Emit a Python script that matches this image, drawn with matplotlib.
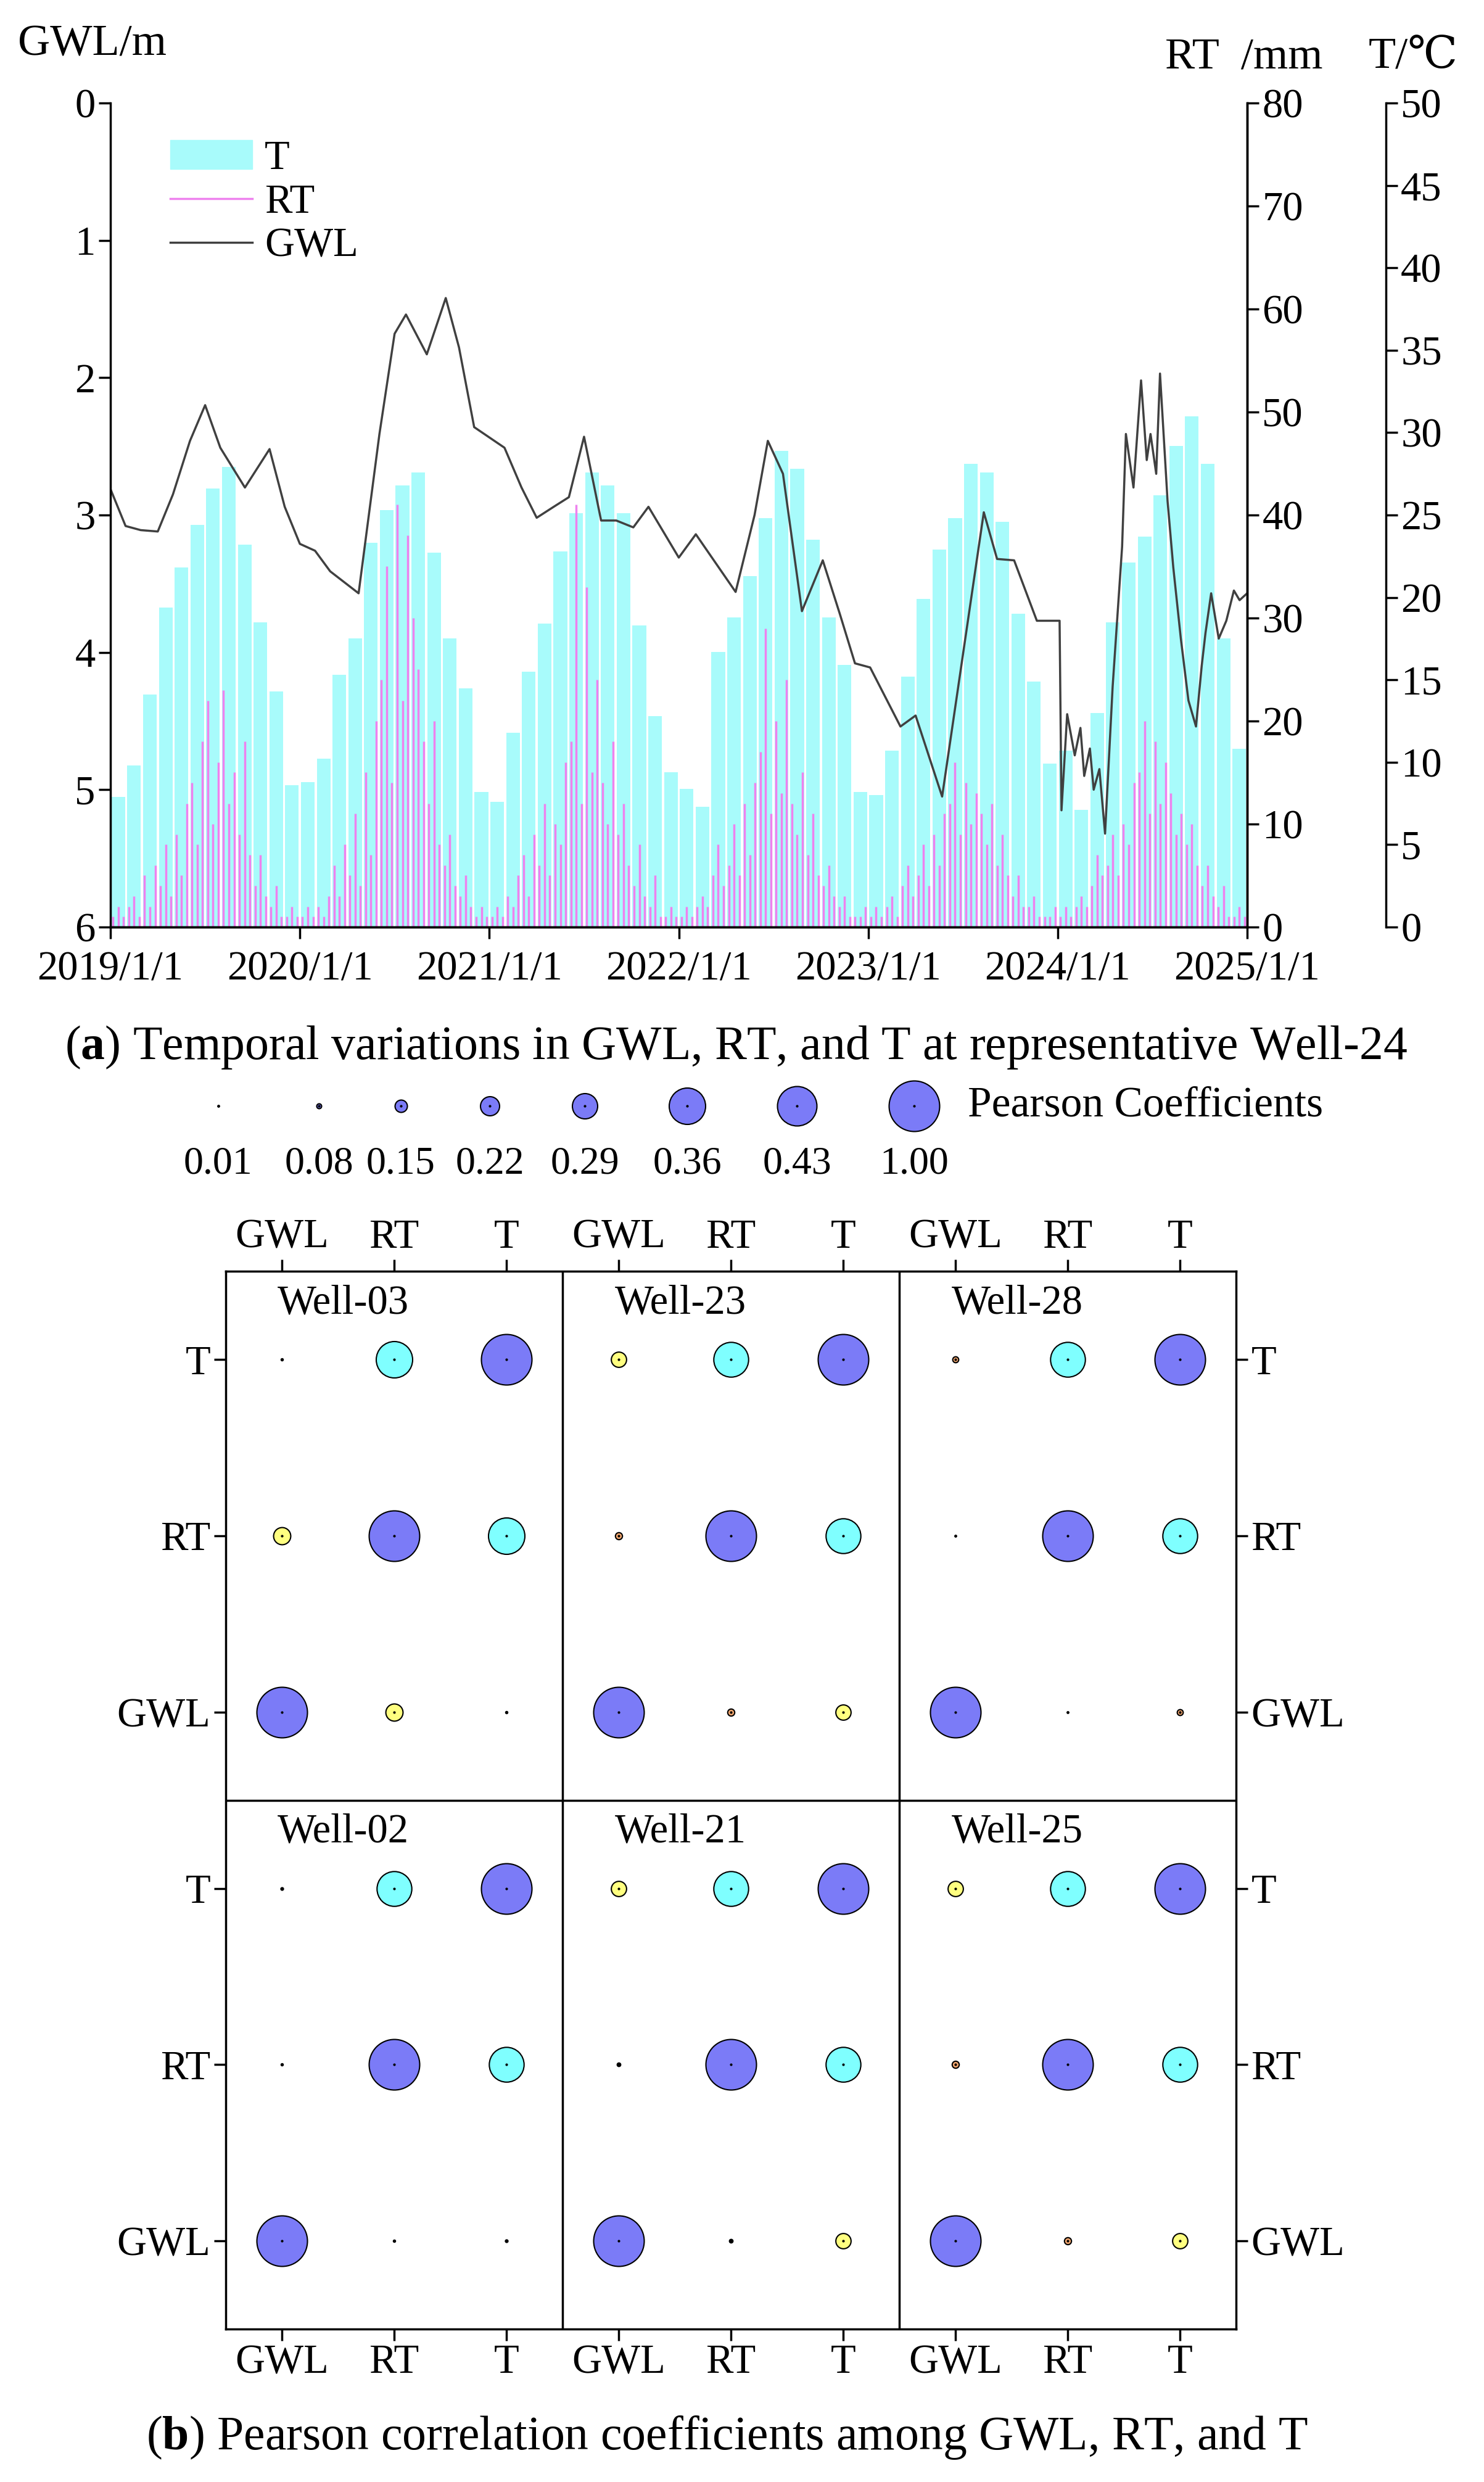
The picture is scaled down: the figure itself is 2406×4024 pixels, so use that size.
import numpy as np
import matplotlib
matplotlib.use("Agg")
import matplotlib.pyplot as plt
from matplotlib.patches import Patch
from matplotlib.lines import Line2D

plt.rcParams['font.family'] = ['Liberation Serif', 'DejaVu Serif']
plt.rcParams['mathtext.fontset'] = 'custom'
plt.rcParams['mathtext.bf'] = 'Liberation Serif:bold'
plt.rcParams['mathtext.rm'] = 'Liberation Serif'

FS = 48

# ---------------- data: panel (a) ----------------
YEARS = [2019, 2020, 2021, 2022, 2023, 2024]
T_MONTHLY = [
    7.9, 9.8, 14.1, 19.4, 21.8, 24.4, 26.6, 27.9, 23.2, 18.5, 14.3, 8.6,
    8.8, 10.2, 15.3, 17.5, 23.3, 25.3, 26.8, 27.6, 22.7, 17.5, 14.5, 8.2,
    7.6, 11.8, 15.5, 18.4, 22.8, 25.1, 27.6, 26.8, 25.1, 18.3, 12.8, 9.4,
    8.4, 7.3, 16.7, 18.8, 21.3, 24.8, 28.9, 27.8, 23.5, 18.8, 15.9, 8.2,
    8.0, 10.7, 15.2, 19.9, 22.9, 24.8, 28.1, 27.6, 24.6, 19.0, 14.9, 9.9,
    10.7, 7.1, 13.0, 18.5, 22.1, 23.7, 26.2, 29.2, 31.0, 28.1, 17.5, 10.8,
]
# rainfall, three readings per month (mm)
RT_DEKAD = [
    1, 2, 1, 2, 3, 1, 5, 2, 6, 4, 8, 3, 9, 5, 12, 14, 8, 18, 22, 10, 16, 23, 12, 15, 9, 18, 7, 4, 7, 3, 2, 4, 1, 1, 2, 1,
    1, 2, 1, 2, 1, 3, 6, 3, 8, 5, 11, 4, 15, 7, 20, 24, 35, 14, 41, 22, 38, 30, 25, 18, 12, 20, 8, 6, 9, 4, 3, 5, 2, 1, 2, 1,
    1, 2, 1, 3, 2, 5, 7, 3, 9, 6, 12, 5, 10, 8, 16, 18, 41, 12, 33, 15, 24, 14, 10, 18, 9, 12, 6, 4, 8, 3, 2, 5, 1, 1, 2, 1,
    1, 2, 1, 2, 3, 2, 5, 8, 4, 6, 10, 5, 12, 7, 14, 17, 29, 11, 20, 13, 24, 12, 9, 15, 7, 11, 5, 4, 6, 3, 2, 3, 1, 1, 1, 2,
    1, 2, 1, 2, 3, 1, 4, 6, 3, 5, 8, 4, 9, 6, 11, 12, 16, 9, 14, 10, 13, 11, 8, 12, 6, 9, 5, 3, 5, 2, 2, 3, 1, 1, 1, 2,
    1, 2, 1, 2, 3, 2, 4, 7, 5, 6, 9, 5, 10, 8, 14, 15, 20, 11, 18, 12, 16, 13, 9, 11, 8, 10, 6, 4, 6, 3, 2, 4, 1, 1, 2, 1,
]
GWL_T = [2019.00, 2019.08, 2019.16, 2019.25, 2019.33, 2019.42, 2019.50, 2019.58, 2019.71, 2019.84, 2019.92,
         2020.00, 2020.08, 2020.16, 2020.31, 2020.42, 2020.50, 2020.56, 2020.67, 2020.77, 2020.84, 2020.92,
         2021.08, 2021.17, 2021.25, 2021.34, 2021.42, 2021.50, 2021.59, 2021.67, 2021.76, 2021.84,
         2022.00, 2022.09, 2022.30, 2022.40, 2022.47, 2022.55, 2022.65, 2022.76, 2022.85, 2022.93,
         2023.01, 2023.17, 2023.25, 2023.39, 2023.61, 2023.68, 2023.77, 2023.89, 2024.01,
         2024.02, 2024.05, 2024.09, 2024.12, 2024.14, 2024.17, 2024.19, 2024.22, 2024.25, 2024.29,
         2024.34, 2024.36, 2024.40, 2024.44, 2024.47, 2024.49, 2024.52, 2024.54, 2024.58, 2024.61,
         2024.65, 2024.69, 2024.73, 2024.76, 2024.78, 2024.81, 2024.85, 2024.89, 2024.93, 2024.96, 2025.00]
GWL_V = [2.81, 3.08, 3.11, 3.12, 2.85, 2.46, 2.20, 2.51, 2.80, 2.52, 2.94,
         3.21, 3.26, 3.41, 3.57, 2.41, 1.68, 1.54, 1.83, 1.42, 1.78, 2.36,
         2.51, 2.80, 3.02, 2.94, 2.87, 2.43, 3.04, 3.04, 3.09, 2.94,
         3.31, 3.14, 3.56, 3.00, 2.46, 2.70, 3.70, 3.33, 3.72, 4.08,
         4.11, 4.54, 4.46, 5.05, 2.98, 3.32, 3.33, 3.77, 3.77,
         5.15, 4.45, 4.75, 4.55, 4.90, 4.70, 5.00, 4.85, 5.32, 4.25,
         3.23, 2.41, 2.80, 2.02, 2.60, 2.41, 2.70, 1.97, 2.90, 3.38,
         3.90, 4.35, 4.54, 4.10, 3.86, 3.57, 3.90, 3.77, 3.55, 3.62, 3.57]

# ---------------- data: panel (b) ----------------
VARS = ["GWL", "RT", "T"]
WELLS = ["Well-03", "Well-23", "Well-28", "Well-02", "Well-21", "Well-25"]
R_GWL_RT = [0.20, 0.10, 0.01, 0.02, 0.05, 0.10]
R_GWL_T = [0.02, 0.18, 0.09, 0.03, 0.18, 0.18]
R_RT_T = [0.36, 0.35, 0.35, 0.35, 0.35, 0.35]
LEG_VALUES = [0.01, 0.08, 0.15, 0.22, 0.29, 0.36, 0.43, 1.00]

fig = plt.figure(figsize=(24.06, 40.24), dpi=100)

# ---- panel (a)
ax = fig.add_axes([0.0744, 0.6265, 0.766, 0.332])
axR = ax.twinx()
axT = ax.twinx()
axT.spines['right'].set_position(('axes', 1.122))

t_x = [y + (m + 0.5) / 12 for y in YEARS for m in range(12)]
axT.bar(t_x, T_MONTHLY, width=0.072, color='#A8FBFB', zorder=1)
rt_x = [y + (m + (k + 0.5) / 3) / 12 for y in YEARS for m in range(12) for k in range(3)]
axR.vlines(rt_x, 0, RT_DEKAD, color='#EE82EE', linewidth=2.5)
ax.plot(GWL_T, GWL_V, color='#404040', linewidth=2.5)

axT.set_zorder(1)
axR.set_zorder(2)
ax.set_zorder(3)
ax.patch.set_visible(False)
axR.patch.set_visible(False)

ax.set_xlim(2019, 2025)
ax.set_ylim(6, 0)
axR.set_ylim(0, 80)
axT.set_ylim(0, 50)
ax.set_xticks(range(2019, 2026))
ax.set_xticklabels([f"{y}/1/1" for y in range(2019, 2026)])
ax.set_yticks(range(7))
axR.set_yticks(range(0, 81, 10))
axT.set_yticks(range(0, 51, 5))
for a in (ax, axR, axT):
    a.tick_params(labelsize=FS, width=2.5, length=14, direction='out')
    for s in a.spines.values():
        s.set_linewidth(2.5)
ax.tick_params(axis='x', pad=14)
for a in (ax, axR, axT):
    a.spines['top'].set_visible(False)
axT.spines['left'].set_visible(False)
axT.spines['bottom'].set_visible(False)
axR.spines['left'].set_visible(False)

handles = [Patch(color='#A8FBFB', label='T'),
           Line2D([], [], color='#EE82EE', lw=2.5, label='RT'),
           Line2D([], [], color='#404040', lw=2.5, label='GWL')]
ax.legend(handles=handles, loc='upper left', bbox_to_anchor=(0.02, 1.0), frameon=False,
          fontsize=FS, handlelength=2.0, handletextpad=0.3, labelspacing=0.15)

fig.text(0.012, 0.982, "GWL/m", fontsize=FS + 4, va='center')
fig.text(0.785, 0.977, "RT  /mm", fontsize=FS + 4, va='center')
fig.text(0.922, 0.977, "T/℃", fontsize=FS + 4, va='center')
fig.text(0.496, 0.578, r"($\mathbf{a}$) Temporal variations in GWL, RT, and T at representative Well-24",
         fontsize=FS + 8, ha='center', va='center')
fig.text(0.49, 0.018, r"($\mathbf{b}$) Pearson correlation coefficients among GWL, RT, and T",
         fontsize=FS + 8, ha='center', va='center')

# ---- bubble size / colour mapping
LEG_RADII = [1.3, 4.0, 10.0, 15.5, 20.5, 29.5, 32.0, 41.0]   # px


def bubble_s(v):
    r_px = np.interp(v, LEG_VALUES, LEG_RADII)
    return (2 * r_px * 72 / 100) ** 2


def bubble_c(v):
    if v >= 0.9:
        return '#7B7BF7'
    if v >= 0.3:
        return '#7FFFFF'
    if v >= 0.14:
        return '#FFFF80'
    if v >= 0.07:
        return '#F4A870'
    return '#6A6AA0'


# ---- legend of bubble sizes
lg = fig.add_axes([0, 0, 1, 1])
lg.set_xlim(0, 1)
lg.set_ylim(0, 1)
lg.axis('off')
leg_x = [0.147, 0.215, 0.270, 0.330, 0.394, 0.463, 0.537, 0.616]
for x, v in zip(leg_x, LEG_VALUES):
    lg.scatter([x], [0.5545], s=bubble_s(v), color='#7B7BF7', edgecolor='black', linewidth=1.5)
    lg.scatter([x], [0.5545], s=4, color='black')
    lg.text(x, 0.531, f"{v:.2f}", fontsize=FS - 2, ha='center', va='center')
lg.text(0.652, 0.5545, "Pearson Coefficients", fontsize=FS + 2, va='center')

# ---- panel (b)
bx = fig.add_axes([0.152, 0.0616, 0.681, 0.4262])
bx.set_xlim(0, 9)
bx.set_ylim(0, 6)
for w, well in enumerate(WELLS):
    col, row_base = w % 3, (3 if w < 3 else 0)
    mat = np.array([[1.0, R_GWL_RT[w], R_GWL_T[w]],
                    [R_GWL_RT[w], 1.0, R_RT_T[w]],
                    [R_GWL_T[w], R_RT_T[w], 1.0]])
    for i in range(3):
        for j in range(3):
            x, y = col * 3 + 0.5 + j, row_base + 0.5 + i
            v = mat[i, j]
            bx.scatter([x], [y], s=bubble_s(v), color=bubble_c(v), edgecolor='black',
                       linewidth=1.5, zorder=3)
            bx.scatter([x], [y], s=4, color='black', zorder=4)
    bx.text(col * 3 + 1.05, row_base + 2.82, well, fontsize=FS, ha='center', va='center')
for x in (3, 6):
    bx.axvline(x, color='black', linewidth=2.5)
bx.axhline(3, color='black', linewidth=2.5)
xt = [c * 3 + 0.5 + j for c in range(3) for j in range(3)]
bx.set_xticks(xt)
bx.set_xticklabels(VARS * 3)
yt = [r * 3 + 0.5 + i for r in range(2) for i in range(3)]
bx.set_yticks(yt)
bx.set_yticklabels(VARS * 2)
bx.tick_params(labelsize=FS, width=2.5, length=14, direction='out',
               top=True, labeltop=True, right=True, labelright=True)
for s in bx.spines.values():
    s.set_linewidth(2.5)

fig.savefig("out.png", dpi=100)
